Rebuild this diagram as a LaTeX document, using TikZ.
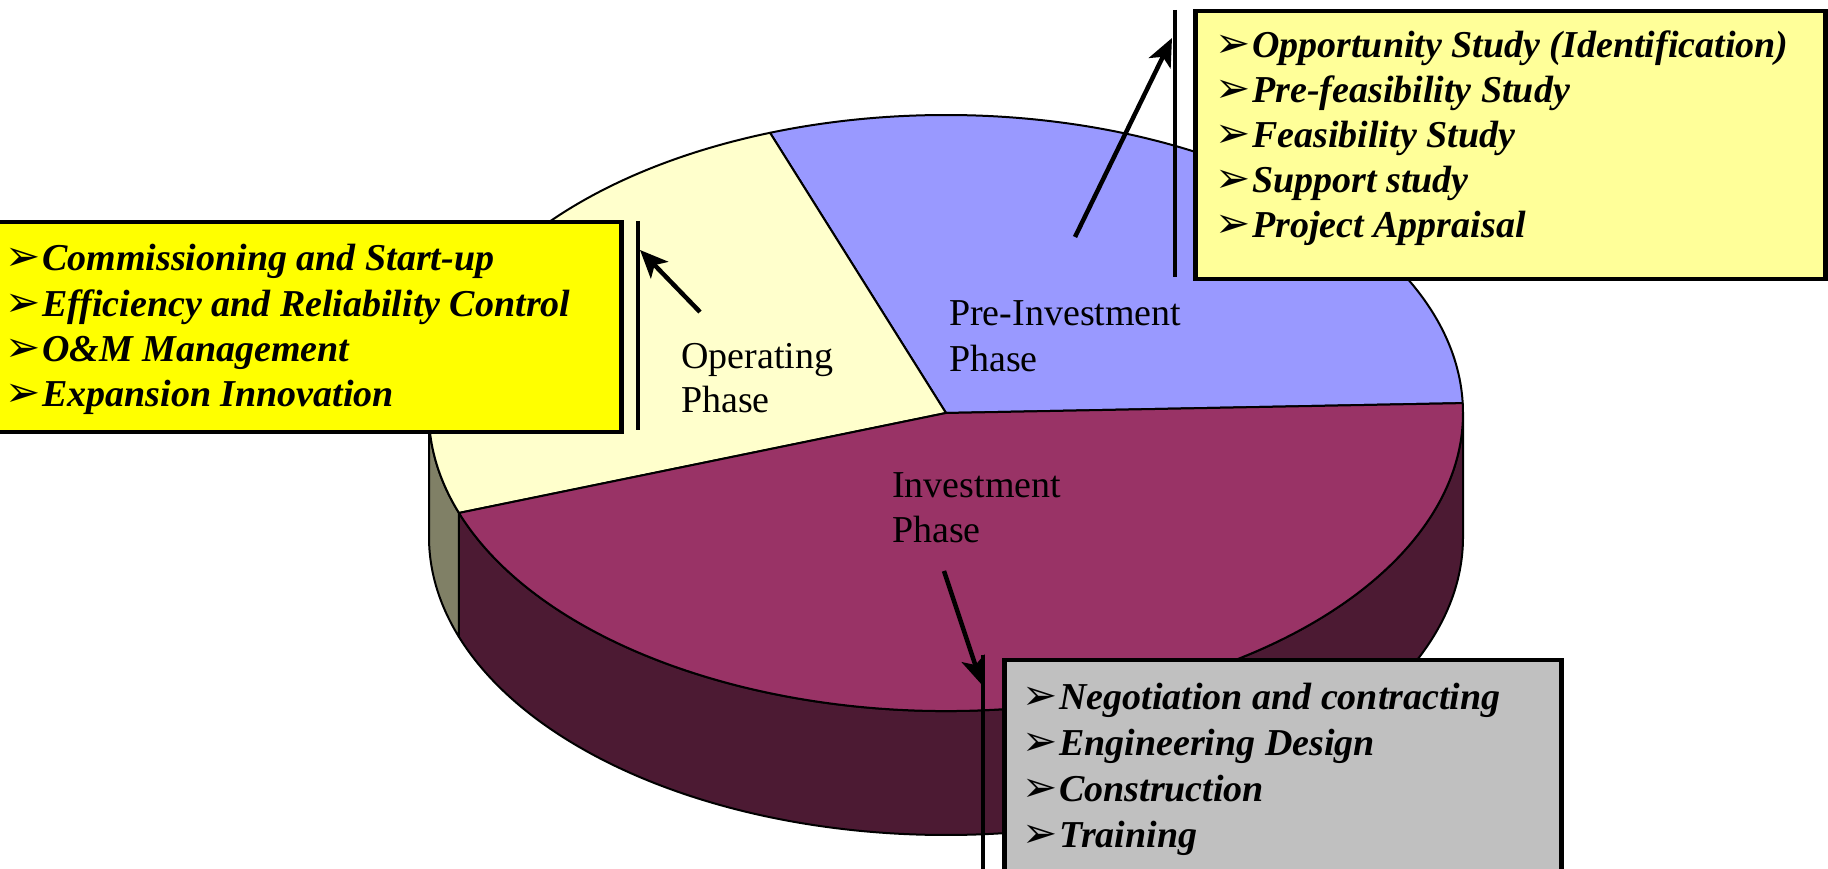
\documentclass[tikz,border=0pt]{standalone}
\usepackage{fontspec}
\setmainfont{Liberation Serif}
\newfontfamily\arrowfont{DejaVu Sans}
\usetikzlibrary{arrows.meta}
\definecolor{preinv}{HTML}{9999FF}
\definecolor{oper}{HTML}{FFFFCC}
\definecolor{inv}{HTML}{993366}
\definecolor{invside}{HTML}{4C1A33}
\definecolor{operside}{HTML}{808066}
\definecolor{boxyellow}{HTML}{FFFF00}
\definecolor{boxlight}{HTML}{FFFF99}
\definecolor{boxgray}{HTML}{C0C0C0}
\begin{document}
\begin{tikzpicture}[x=1pt,y=1pt,
  pieedge/.style={draw=black, line width=2pt, line join=round},
  listbox/.style={draw=black, line width=4.5pt, inner sep=0pt, anchor=north west},
  itemtext/.style={inner sep=0pt, anchor=base west, font=\fontsize{38}{46}\selectfont\bfseries\itshape},
  itembullet/.style={inner sep=0pt, anchor=base east, font=\fontsize{42}{46}\arrowfont},
  phaselabel/.style={inner sep=0pt, anchor=base west, font=\fontsize{38}{46}\selectfont},
  pointer/.style={line width=4.5pt, -{Stealth[length=28pt,width=24pt,inset=7pt]}},
  barline/.style={line width=4.5pt}
]
\useasboundingbox (0,0) rectangle (1828,869);
\coordinate (pc) at (946,456);
\def\rx{517}\def\ry{298}\def\dep{124}
% side faces
\filldraw[fill=invside, pieedge] ([shift={(pc)}]199.6:\rx\space and \ry) arc[start angle=199.6, end angle=360, x radius=\rx, y radius=\ry] -- ++(0,-\dep) arc[start angle=360, end angle=199.6, x radius=\rx, y radius=\ry] -- cycle;
\filldraw[fill=operside, pieedge] ([shift={(pc)}]180:\rx\space and \ry) arc[start angle=180, end angle=199.6, x radius=\rx, y radius=\ry] -- ++(0,-\dep) arc[start angle=199.6, end angle=180, x radius=\rx, y radius=\ry] -- cycle;
% top slices
\filldraw[fill=preinv, pieedge] (pc) -- ([shift={(pc)}]1.9:\rx\space and \ry) arc[start angle=1.9, end angle=109.9, x radius=\rx, y radius=\ry] -- cycle;
\filldraw[fill=oper, pieedge] (pc) -- ([shift={(pc)}]109.9:\rx\space and \ry) arc[start angle=109.9, end angle=199.6, x radius=\rx, y radius=\ry] -- cycle;
\filldraw[fill=inv, pieedge] (pc) -- ([shift={(pc)}]199.6:\rx\space and \ry) arc[start angle=199.6, end angle=361.9, x radius=\rx, y radius=\ry] -- cycle;
% phase labels
\node[phaselabel] (pre1) at (949,543) {Pre-Investment};
\node[phaselabel] (pre2) at (949,497) {Phase};
\node[phaselabel] (op1) at (681,500) {Operating};
\node[phaselabel] (op2) at (681,456) {Phase};
\node[phaselabel] (inv1) at (892,371) {Investment};
\node[phaselabel] (inv2) at (892,326) {Phase};
% boxes
\node[listbox, fill=boxlight, minimum width=630, minimum height=268] (prebox) at (1193,860) {};
\node[listbox, fill=boxyellow, minimum width=624, minimum height=210] (opbox) at (-5,649) {};
\node[listbox, fill=boxgray, minimum width=557, minimum height=217] (invbox) at (1002,211) {};
% box items
\foreach \t [count=\i] in {Opportunity Study (Identification),Pre-feasibility Study,Feasibility Study,Support study,Project Appraisal}{
  \node[itembullet] (preb\i) at (1251,{856-45*\i}) {➢};
  \node[itemtext] (pret\i) at (1252,{856-45*\i}) {\t};
}
\foreach \t [count=\i] in {Commissioning and Start-up,Efficiency and Reliability Control,O\&M Management,Expansion Innovation}{
  \node[itembullet] (opb\i) at (41,{643.5-45.3*\i}) {➢};
  \node[itemtext] (opt\i) at (42,{643.5-45.3*\i}) {\t};
}
\foreach \t [count=\i] in {Negotiation and contracting,Engineering Design,Construction,Training}{
  \node[itembullet] (invb\i) at (1058,{205-46*\i}) {➢};
  \node[itemtext] (invt\i) at (1059,{205-46*\i}) {\t};
}
% bars and pointers
\coordinate (preBarTop) at (1175,859);
\coordinate (preBarBot) at (1175,592);
\coordinate (opBarTop) at (638,648);
\coordinate (opBarBot) at (638,439);
\coordinate (invBarTop) at (983,214);
\coordinate (invBarBot) at (983,-5);
\draw[barline] (preBarTop) -- (preBarBot);
\draw[barline] (opBarTop) -- (opBarBot);
\draw[barline] (invBarTop) -- (invBarBot);
\coordinate (preTail) at (1075,632);
\coordinate (preTip) at (1172,831);
\coordinate (opTail) at (700,557);
\coordinate (opTip) at (640,619);
\coordinate (invTail) at (944,298);
\coordinate (invTip) at (982,184);
\draw[pointer] (preTail) -- (preTip);
\draw[pointer] (opTail) -- (opTip);
\draw[pointer] (invTail) -- (invTip);
\end{tikzpicture}
\end{document}
